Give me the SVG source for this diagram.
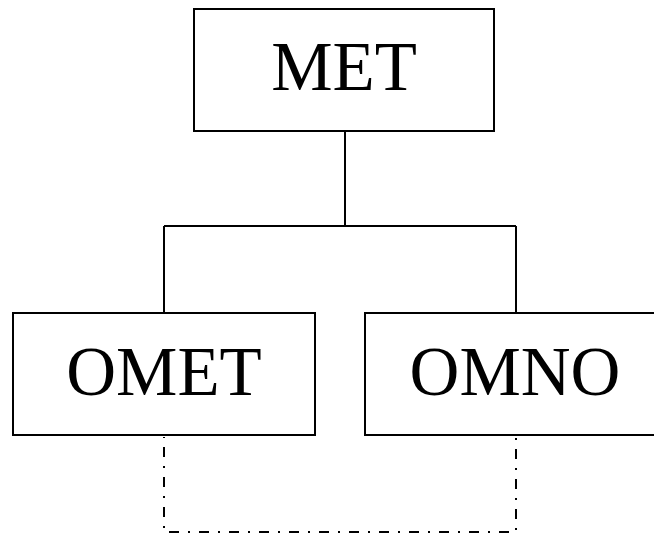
<svg xmlns="http://www.w3.org/2000/svg" width="654" height="535" viewBox="0 0 654 535">
<style>
.box{fill:#fff;stroke:#000;stroke-width:2}
.lbl{font-family:"Liberation Serif","Times New Roman",serif;font-size:69px;fill:#000;text-anchor:middle}
.conn{fill:none;stroke:#000;stroke-width:2}
.dd{fill:none;stroke:#000;stroke-width:2;stroke-dasharray:10 9 2 9}
</style>
<rect width="654" height="535" fill="#fff"/>
<g id="connectors">
<path class="conn" d="M345 131V226M164 226H516M164 226V313M516 226V313"/>
<path class="dd" d="M164 437V532H516V437" stroke-dashoffset="-10"/>
</g>
<g id="MET">
<rect class="box" x="194" y="9" width="300" height="122"/>
<text class="lbl" x="344" y="90">MET</text>
</g>
<g id="OMET">
<rect class="box" x="13" y="313" width="302" height="122"/>
<text class="lbl" x="164" y="395">OMET</text>
</g>
<g id="OMNO">
<rect class="box" x="365" y="313" width="300" height="122"/>
<text class="lbl" x="515" y="395">OMNO</text>
</g>
</svg>
